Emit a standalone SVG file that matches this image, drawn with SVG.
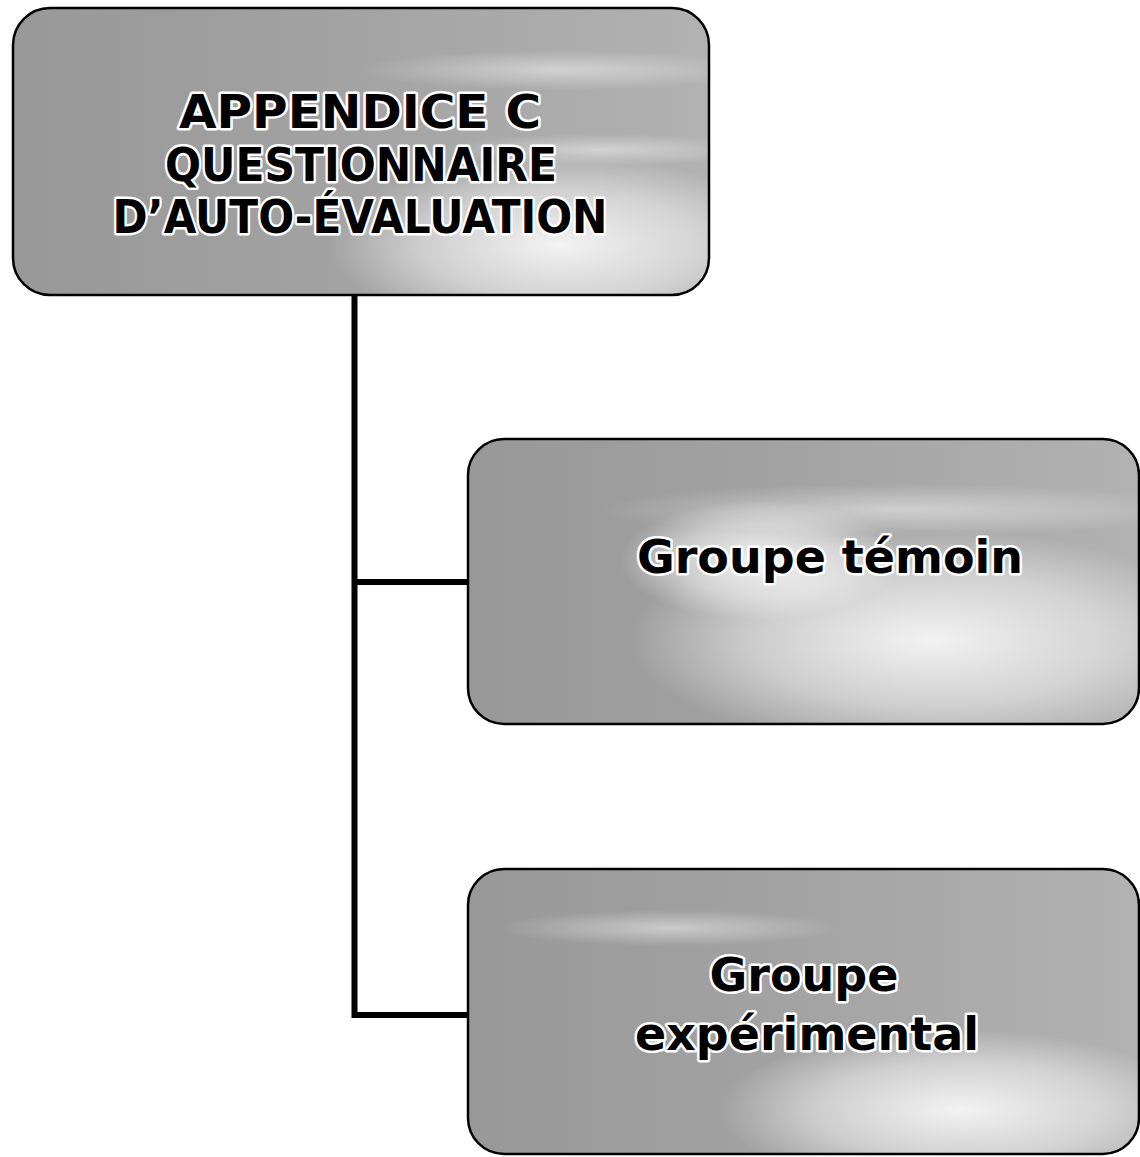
<svg xmlns="http://www.w3.org/2000/svg" width="1140" height="1157" viewBox="0 0 1140 1157">
  <style>
    .box { stroke: #000; stroke-width: 2.5; }
    .label { font-family: "DejaVu Sans", Verdana, sans-serif; font-weight: bold; font-size: 46px; fill: #000;
             stroke: #fff; stroke-width: 5; stroke-linejoin: round; paint-order: stroke fill; text-anchor: middle; }
    .title { font-size: 46px; }
    .link { fill: none; stroke: #000; stroke-width: 6; stroke-linejoin: miter; stroke-linecap: butt; }
  </style>
  <defs>
    <!-- textured grey fill: darker on the left, washed out toward the lower right -->
    <linearGradient id="shadeH" x1="0" y1="0" x2="1" y2="0">
      <stop offset="0" stop-color="#989898"/>
      <stop offset="0.45" stop-color="#a2a2a2"/>
      <stop offset="1" stop-color="#b2b2b2"/>
    </linearGradient>
    <radialGradient id="glow" cx="0.5" cy="0.5" r="0.5">
      <stop offset="0" stop-color="#fff" stop-opacity="0.85"/>
      <stop offset="0.6" stop-color="#fff" stop-opacity="0.45"/>
      <stop offset="1" stop-color="#fff" stop-opacity="0"/>
    </radialGradient>
    <radialGradient id="streak" cx="0.5" cy="0.5" r="0.5">
      <stop offset="0" stop-color="#fff" stop-opacity="0.45"/>
      <stop offset="1" stop-color="#fff" stop-opacity="0"/>
    </radialGradient>
    <clipPath id="clipTop"><rect x="13" y="8" width="696" height="287" rx="37"/></clipPath>
    <clipPath id="clipMid"><rect x="468" y="439" width="671" height="285" rx="36"/></clipPath>
    <clipPath id="clipBot"><rect x="468" y="869" width="671" height="285" rx="36"/></clipPath>
  </defs>

  <!-- tree connectors -->
  <g id="connectors">
    <path class="link" d="M354.5 295 V1015 H468"/>
    <path class="link" d="M354.5 582 H468"/>
  </g>

  <!-- root node -->
  <g id="node-appendice">
    <rect x="13" y="8" width="696" height="287" rx="37" fill="url(#shadeH)"/>
    <g clip-path="url(#clipTop)">
      <ellipse cx="560" cy="245" rx="230" ry="90" fill="url(#glow)"/>
      <ellipse cx="560" cy="70" rx="200" ry="20" fill="url(#streak)"/>
      <ellipse cx="600" cy="150" rx="160" ry="16" fill="url(#streak)"/>
    </g>
    <rect class="box" x="13" y="8" width="696" height="287" rx="37" fill="none"/>
    <text class="label title" x="360" y="128" textLength="362" lengthAdjust="spacingAndGlyphs">APPENDICE C</text>
    <text class="label title" x="361" y="181" textLength="392" lengthAdjust="spacingAndGlyphs">QUESTIONNAIRE</text>
    <text class="label title" x="360" y="233" textLength="495" lengthAdjust="spacingAndGlyphs">D’AUTO-ÉVALUATION</text>
  </g>

  <!-- first child -->
  <g id="node-temoin">
    <rect x="468" y="439" width="671" height="285" rx="36" fill="url(#shadeH)"/>
    <g clip-path="url(#clipMid)">
      <ellipse cx="930" cy="640" rx="300" ry="110" fill="url(#glow)"/>
      <ellipse cx="900" cy="510" rx="300" ry="26" fill="url(#streak)"/>
      <ellipse cx="760" cy="560" rx="140" ry="60" fill="url(#glow)"/>
    </g>
    <rect class="box" x="468" y="439" width="671" height="285" rx="36" fill="none"/>
    <text class="label" x="830" y="573">Groupe témoin</text>
  </g>

  <!-- second child -->
  <g id="node-experimental">
    <rect x="468" y="869" width="671" height="285" rx="36" fill="url(#shadeH)"/>
    <g clip-path="url(#clipBot)">
      <ellipse cx="960" cy="1110" rx="240" ry="80" fill="url(#glow)"/>
      <ellipse cx="670" cy="928" rx="170" ry="18" fill="url(#streak)"/>
    </g>
    <rect class="box" x="468" y="869" width="671" height="285" rx="36" fill="none"/>
    <text class="label" x="804" y="991">Groupe</text>
    <text class="label" x="807" y="1050">expérimental</text>
  </g>
</svg>
